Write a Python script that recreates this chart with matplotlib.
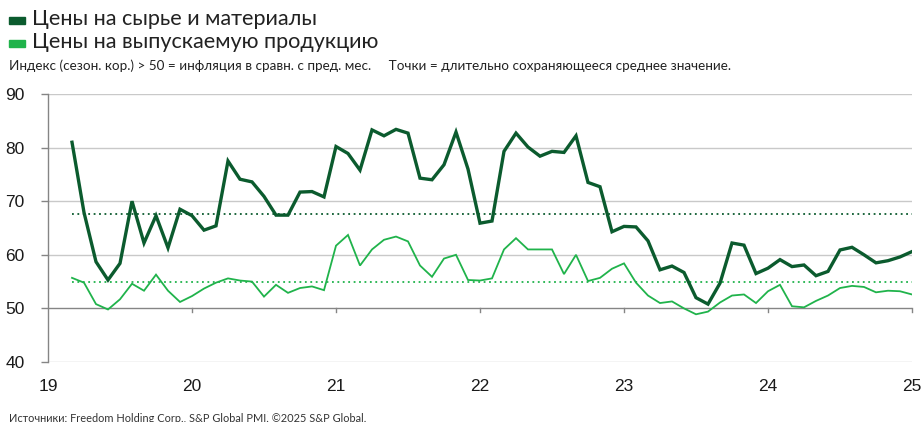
import numpy as np
import pandas as pd
import matplotlib
matplotlib.use("Agg")
import matplotlib.pyplot as plt
from matplotlib.patches import Rectangle

# ---- data ----
start_month = "2019-03-01"
input_prices = [81.0, 67.9, 58.7, 55.3, 58.4, 70.0, 62.2, 67.3, 61.3, 68.5, 67.3, 64.6,
                65.4, 77.5, 74.1, 73.6, 70.9, 67.4, 67.4, 71.7, 71.8, 70.8, 80.2, 78.9,
                75.8, 83.3, 82.2, 83.4, 82.7, 74.3, 74.0, 76.8, 82.9, 76.0, 65.9, 66.3,
                79.3, 82.7, 80.1, 78.4, 79.3, 79.1, 82.2, 73.5, 72.7, 64.3, 65.3, 65.2,
                62.6, 57.2, 57.9, 56.7, 52.0, 50.8, 54.7, 62.2, 61.8, 56.5, 57.5, 59.1,
                57.8, 58.1, 56.1, 56.9, 60.9, 61.4, 60.0, 58.5, 58.9, 59.6, 60.6]
output_prices = [55.7, 54.8, 50.8, 49.8, 51.7, 54.6, 53.3, 56.3, 53.3, 51.2, 52.3, 53.7,
                 54.8, 55.6, 55.2, 55.0, 52.2, 54.4, 52.9, 53.8, 54.1, 53.4, 61.7, 63.7,
                 58.0, 61.0, 62.8, 63.4, 62.5, 58.0, 55.9, 59.3, 60.0, 55.3, 55.2, 55.6,
                 61.0, 63.1, 61.0, 61.0, 61.0, 56.4, 60.0, 55.1, 55.7, 57.4, 58.4, 54.8,
                 52.4, 51.0, 51.3, 50.0, 48.9, 49.4, 51.1, 52.4, 52.6, 51.0, 53.2, 54.4,
                 50.4, 50.2, 51.4, 52.4, 53.8, 54.2, 54.0, 53.0, 53.3, 53.2, 52.6]
input_avg = 67.7
output_avg = 55.0
year_ticks = [2019, 2020, 2021, 2022, 2023, 2024, 2025]
year_labels = ["19", "20", "21", "22", "23", "24", "25"]
y_ticks = [40, 50, 60, 70, 80, 90]
series_names = ["Цены на сырье и материалы", "Цены на выпускаемую продукцию"]
subtitle = ("Индекс (сезон. кор.) > 50 = инфляция в сравн. с пред. мес.     "
            "Точки = длительно сохраняющееся среднее значение.")
source = "Источники: Freedom Holding Corp., S&P Global PMI. ©2025 S&P Global."

dates = pd.date_range(start_month, periods=len(input_prices), freq="MS")
x = dates.year + (dates.month - 1) / 12.0

DARK = "#0b5b2e"
LIGHT = "#20b34b"
GRID = "#c9c9c9"
AXIS = "#858585"

plt.rcParams["font.family"] = ["Liberation Sans", "DejaVu Sans"]

fig = plt.figure(figsize=(9.22, 4.22), dpi=100)
ax = fig.add_axes([48 / 922, 1 - 362 / 422, (912 - 48) / 922, (362 - 94) / 422])

ax.set_xlim(year_ticks[0], year_ticks[-1])
ax.set_ylim(y_ticks[0], y_ticks[-1])

for yv in y_ticks:
    if yv == 50:
        continue
    ax.axhline(yv, color=GRID, lw=1.0, zorder=1)
ax.axhline(50, color=AXIS, lw=1.0, zorder=2)
# downward tick marks on the 50 line
for xt in year_ticks[1:]:
    ax.plot([xt, xt], [50, 49.25], color=AXIS, lw=1.0, zorder=2, clip_on=False)

# long-run averages (dotted)
ax.plot([x[0], year_ticks[-1]], [input_avg, input_avg], color=DARK, lw=1.3,
        linestyle=(0, (1, 2)), zorder=3)
ax.plot([x[0], year_ticks[-1]], [output_avg, output_avg], color=LIGHT, lw=1.3,
        linestyle=(0, (1, 2)), zorder=3)

ax.plot(x, output_prices, color=LIGHT, lw=1.3, zorder=4, solid_joinstyle="miter")
ax.plot(x, input_prices, color=DARK, lw=2.4, zorder=5, solid_joinstyle="miter")

for s in ["top", "right", "bottom"]:
    ax.spines[s].set_visible(False)
ax.spines["left"].set_color(AXIS)
ax.spines["left"].set_linewidth(1.0)

ax.set_yticks(y_ticks)
ax.set_yticklabels([str(v) for v in y_ticks])
ax.tick_params(axis="y", length=5, width=1.0, color=AXIS, labelsize=12.5, pad=12,
               labelcolor="#1a1a1a")
ax.set_xticks(year_ticks)
ax.set_xticklabels(year_labels)
ax.tick_params(axis="x", length=0, labelsize=12.5, pad=12, labelcolor="#1a1a1a")

# legend header
title_font = ["Lato", "DejaVu Sans"]
fig.patches.append(Rectangle((9 / 922, 1 - 24 / 422), 16 / 922, 7 / 422,
                             transform=fig.transFigure, color=DARK, figure=fig))
fig.patches.append(Rectangle((9 / 922, 1 - 47 / 422), 16 / 922, 7 / 422,
                             transform=fig.transFigure, color=LIGHT, figure=fig))
fig.text(32 / 922, 1 - 19 / 422, series_names[0], fontsize=15.6, va="center",
         ha="left", color="#222222", family=title_font)
fig.text(32 / 922, 1 - 42 / 422, series_names[1], fontsize=15.6, va="center",
         ha="left", color="#222222", family=title_font)
fig.text(9 / 922, 1 - 66 / 422, subtitle, fontsize=9.7, va="center", ha="left",
         color="#222222", family=title_font)
fig.text(9 / 922, 1 - 418 / 422, source, fontsize=7.9, va="center", ha="left",
         color="#333333", family=title_font)

fig.savefig("out.png", dpi=100)
